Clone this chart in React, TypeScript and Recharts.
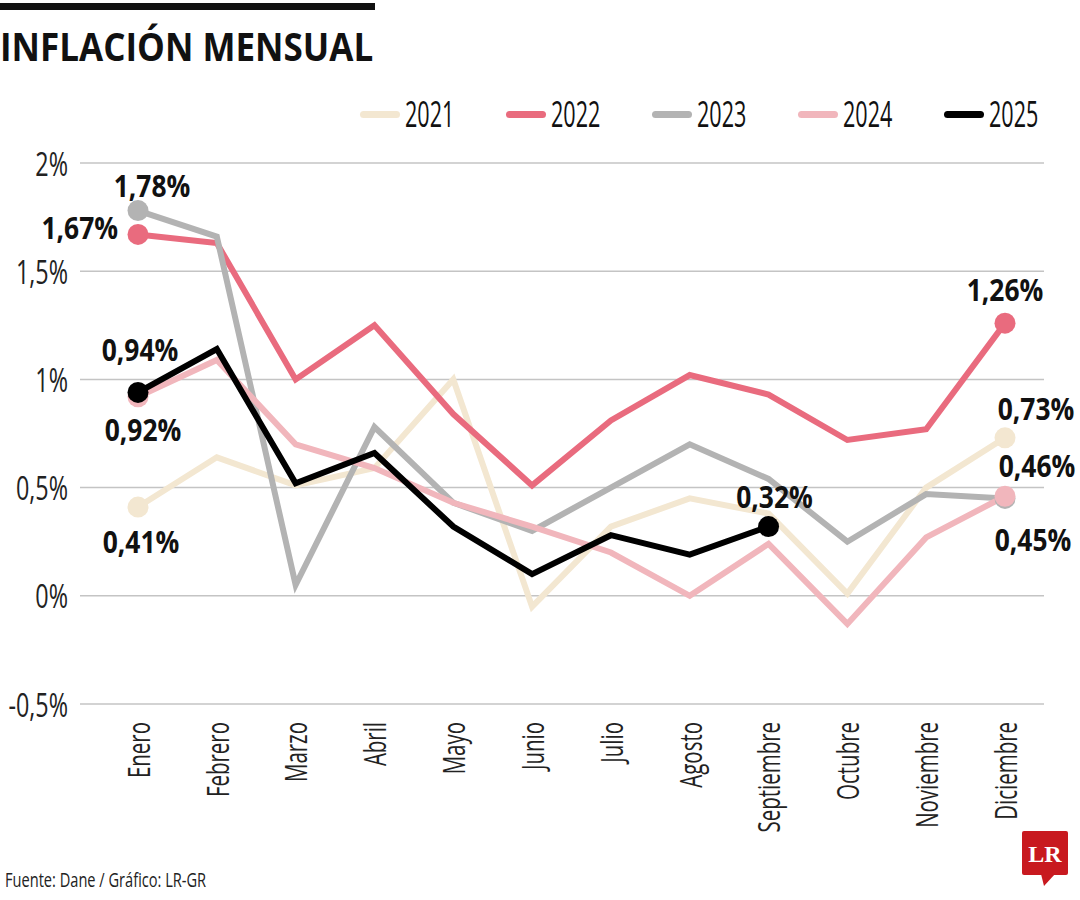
import React from 'react';
import { LineChart, Line, XAxis, YAxis, CartesianGrid } from 'recharts';

const months = ['Enero', 'Febrero', 'Marzo', 'Abril', 'Mayo', 'Junio', 'Julio', 'Agosto', 'Septiembre', 'Octubre', 'Noviembre', 'Diciembre'];
const v2021 = [0.41, 0.64, 0.51, 0.59, 1.0, -0.05, 0.32, 0.45, 0.38, 0.01, 0.5, 0.73];
const v2022 = [1.67, 1.63, 1.0, 1.25, 0.84, 0.51, 0.81, 1.02, 0.93, 0.72, 0.77, 1.26];
const v2023 = [1.78, 1.66, 0.05, 0.78, 0.43, 0.3, 0.5, 0.7, 0.54, 0.25, 0.47, 0.45];
const v2024 = [0.92, 1.09, 0.7, 0.59, 0.43, 0.32, 0.2, 0.0, 0.24, -0.13, 0.27, 0.46];
const v2025 = [0.94, 1.14, 0.52, 0.66, 0.32, 0.1, 0.28, 0.19, 0.32, null, null, null];
const years = ['2021', '2022', '2023', '2024', '2025'];
const yTicks = [-0.5, 0, 0.5, 1, 1.5, 2];

const seriesValues = [v2021, v2022, v2023, v2024, v2025];
const colors = ['#f3e7d1', '#e96b7e', '#b3b3b3', '#f1b6bc', '#000000'];

// label placement per series: index -> [dx, dy, anchor]
const labelPlacement: Record<string, Record<number, [number, number, string]>> = {
  '2021': { 0: [3, 34, 'middle'], 11: [31, -30, 'middle'] },
  '2022': { 0: [-20, -7, 'end'], 11: [0, -34, 'middle'] },
  '2023': { 0: [14, -25, 'middle'], 11: [28, 41, 'middle'] },
  '2024': { 0: [5, 33, 'middle'], 11: [32, -31, 'middle'] },
  '2025': { 0: [2, -43, 'middle'], 8: [6, -30, 'middle'] },
};

const data = months.map((m, i) => {
  const row: Record<string, any> = { month: m };
  years.forEach((y, k) => {
    row[y] = seriesValues[k][i];
  });
  return row;
});

const BASE = "'Open Sans', 'Noto Sans', sans-serif";

const fmt = (v: number) => v.toFixed(2).replace('.', ',') + '%';
const fmtTick = (v: number) => String(v).replace('.', ',') + '%';

const makeDot = (year: string, color: string) => (props: any) => {
  const { cx, cy, index, value } = props;
  const place = labelPlacement[year][index];
  if (!place || cx == null || cy == null) return <g key={`d-${year}-${index}`} />;
  const val = Array.isArray(value) ? value[1] : value;
  return (
    <g key={`d-${year}-${index}`}>
      <circle cx={cx} cy={cy} r={10.5} fill={color} />
      <text
        transform={`translate(${cx + place[0]},${cy + place[1]}) scale(0.88,1)`}
        textAnchor={place[2] as any}
        dominantBaseline="central"
        fontFamily={BASE}
        fontWeight={700}
        fontSize={30}
        fill="#111"
      >
        {fmt(val)}
      </text>
    </g>
  );
};

const YTick = (props: any) => {
  const { y, payload } = props;
  return (
    <text
      transform={`translate(68,${y}) scale(0.73,1)`}
      textAnchor="end"
      dominantBaseline="central"
      fontFamily={BASE}
      fontSize={32}
      fill="#222"
    >
      {fmtTick(payload.value)}
    </text>
  );
};

const XTick = (props: any) => {
  const { x, payload } = props;
  return (
    <text
      transform={`translate(${x},722) rotate(-90) scale(0.66,1)`}
      textAnchor="end"
      dominantBaseline="central"
      fontFamily={BASE}
      fontSize={31}
      fill="#222"
    >
      {payload.value}
    </text>
  );
};

export default function App() {
  return (
    <div style={{ position: 'absolute', left: 0, top: 0, width: 1080, height: 900, background: '#fff' }}>
      <div style={{ position: 'absolute', left: 0, top: 3, width: 375, height: 7, background: '#111' }} />
      <div
        style={{
          position: 'absolute',
          left: 0,
          top: 26,
          fontFamily: BASE,
          fontWeight: 700,
          fontSize: 40,
          lineHeight: '40px',
          color: '#111',
          whiteSpace: 'nowrap',
          transform: 'scaleX(0.875)',
          transformOrigin: 'left center',
        }}
      >
        INFLACIÓN MENSUAL
      </div>
      {years.map((y, i) => (
        <div
          key={y}
          style={{ position: 'absolute', left: 360 + i * 146, top: 96, height: 36, display: 'flex', alignItems: 'center' }}
        >
          <div style={{ width: 40, height: 7, borderRadius: 4, background: colors[i] }} />
          <div
            style={{
              marginLeft: 5,
              fontFamily: BASE,
              fontSize: 36,
              lineHeight: '36px',
              color: '#111',
              transform: 'scaleX(0.6)',
              transformOrigin: 'left center',
            }}
          >
            {y}
          </div>
        </div>
      ))}
      <div style={{ position: 'absolute', left: 0, top: 0 }}>
        <LineChart width={1080} height={900} data={data} margin={{ top: 163, right: 36, bottom: 36, left: 0 }}>
          <CartesianGrid vertical={false} stroke="#c4c4c4" strokeWidth={1.5} />
          <XAxis
            dataKey="month"
            height={160}
            axisLine={false}
            tickLine={false}
            interval={0}
            padding={{ left: 58, right: 39 }}
            tick={<XTick />}
          />
          <YAxis
            width={80}
            domain={[-0.5, 2]}
            ticks={yTicks}
            axisLine={false}
            tickLine={false}
            tick={<YTick />}
            interval={0}
          />
          {years.map((y, i) => (
            <Line
              key={y}
              dataKey={y}
              type="linear"
              stroke={colors[i]}
              strokeWidth={6}
              strokeLinejoin="miter"
              dot={makeDot(y, colors[i])}
              activeDot={false}
              isAnimationActive={false}
              connectNulls={false}
            />
          ))}
        </LineChart>
      </div>
      <div
        style={{
          position: 'absolute',
          left: 5,
          top: 866,
          fontFamily: BASE,
          fontSize: 20,
          lineHeight: '28px',
          color: '#222',
          whiteSpace: 'nowrap',
          transform: 'scaleX(0.73)',
          transformOrigin: 'left center',
        }}
      >
        Fuente: Dane / Gráfico: LR-GR
      </div>
      <svg style={{ position: 'absolute', left: 1015, top: 826 }} width={60} height={66}>
        <rect x={7} y={5} width={46} height={44} rx={2} fill="#c8191f" />
        <polygon points="26,48 40,48 29,60" fill="#c8191f" />
        <text x={30} y={28} textAnchor="middle" dominantBaseline="central" fontFamily="'Liberation Serif', serif" fontWeight={700} fontSize={24} fill="#fff">
          LR
        </text>
      </svg>
    </div>
  );
}
